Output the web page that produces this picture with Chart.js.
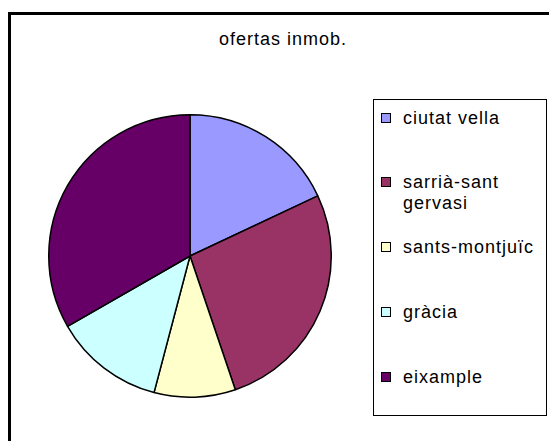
<!DOCTYPE html>
<html>
<head>
<meta charset="utf-8">
<script src="https://cdn.jsdelivr.net/npm/chart.js@4/dist/chart.umd.min.js"></script>
<style>
  body { margin: 0; width: 549px; height: 441px; overflow: hidden; background: #fff; position: relative;
         font-family: Arial, "Liberation Sans", sans-serif; }
  #frame { position: absolute; left: 8px; top: 12px; width: 620px; height: 500px; border: 3px solid #000; }
  #title { position: absolute; left: 183px; top: 29px; width: 200px; text-align: center;
           font-size: 18px; line-height: 20px; letter-spacing: 1px; color: #000; }
  #pie { position: absolute; left: 48px; top: 114px; }
  #legend { position: absolute; left: 373px; top: 99px; width: 172px; height: 315px; border: 1px solid #000; }
  .item { position: absolute; left: 7px; display: flex; align-items: flex-start; }
  .box { width: 8px; height: 8px; border: 1px solid #000; margin-top: 5px; margin-right: 12px; flex: none; }
  .txt { font-size: 18px; line-height: 21px; letter-spacing: 1px; width: 142px; color: #000; }
</style>
</head>
<body>
<div id="frame"></div>
<div id="title"></div>
<canvas id="pie" width="284" height="284"></canvas>
<div id="legend"></div>
<script>
const chartTitle = 'ofertas inmob.';
const districts = ['ciutat vella', 'sarrià-sant gervasi', 'sants-montjuïc', 'gràcia', 'eixample'];
const ofertas = [18.0, 26.8, 9.3, 12.6, 33.3];
const colors = ['#9999FF', '#993366', '#FFFFCC', '#CCFFFF', '#660066'];

document.getElementById('title').textContent = chartTitle;

function buildLegend(parent){
    districts.forEach(function(name, i){
        var item = document.createElement('div');
        item.className = 'item';
        item.style.top = (7.5 + i * 64.75) + 'px';

        var box = document.createElement('span');
        box.className = 'box';
        box.style.background = colors[i];

        var txt = document.createElement('span');
        txt.className = 'txt';
        txt.appendChild(document.createTextNode(name));

        item.appendChild(box);
        item.appendChild(txt);
        parent.appendChild(item);
    });
}

buildLegend(document.getElementById('legend'));

new Chart(document.getElementById('pie'), {
    type: 'pie',
    data: {
        labels: districts,
        datasets: [{
            label: chartTitle,
            data: ofertas,
            backgroundColor: colors,
            borderColor: '#000',
            borderWidth: 1.5
        }]
    },
    options: {
        responsive: false,
        animation: false,
        devicePixelRatio: 1,
        layout: { padding: 0 },
        plugins: {
            legend: { display: false },
            title: { display: false },
            tooltip: { enabled: false }
        }
    }
});
</script>
</body>
</html>
